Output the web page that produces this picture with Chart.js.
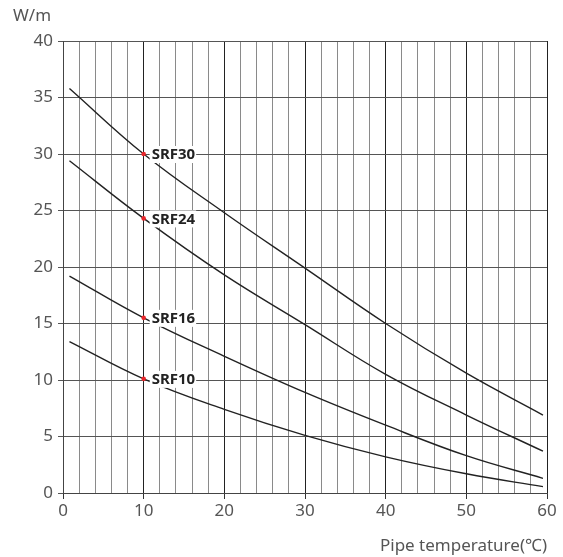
<!DOCTYPE html>
<html>
<head>
<meta charset="utf-8">
<script src="https://cdn.jsdelivr.net/npm/chart.js@4.4.1/dist/chart.umd.min.js"></script>
<style>
  html, body { margin: 0; padding: 0; background: #fff; }
  #chart { display: block; }
</style>
</head>
<body>
<canvas id="chart" width="563" height="557"></canvas>
<script>
// Pipe temperature (°C) vs output (W/m)
const temps  = [0.8, 10, 20, 30, 40, 50, 59.5];
const srf30  = [35.8, 30.0, 24.8, 19.9, 15.0, 10.6, 6.9];
const srf24  = [29.4, 24.3, 19.3, 14.9, 10.5, 6.9, 3.7];
const srf16  = [19.2, 15.5, 12.1, 8.9, 6.0, 3.3, 1.3];
const srf10  = [13.4, 10.1, 7.4, 5.1, 3.2, 1.7, 0.56];
const seriesNames = ['SRF30', 'SRF24', 'SRF16', 'SRF10'];
const labelTemp = 10;
const xTicks = [0, 10, 20, 30, 40, 50, 60];
const yTicks = [0, 5, 10, 15, 20, 25, 30, 35, 40];

const FONT = '"Noto Sans", "Noto Sans CJK KR", sans-serif';

function toPoints(ys) {
  return temps.map((t, i) => ({ x: t, y: ys[i] }));
}

const allSeries = [srf30, srf24, srf16, srf10];

// Red markers + series names at 10°C
const labelPlugin = {
  id: 'seriesLabels',
  afterDatasetsDraw(chart) {
    const ctx = chart.ctx;
    const xs = chart.scales.x, ys = chart.scales.y;
    ctx.save();
    allSeries.forEach((s, i) => {
      const idx = temps.indexOf(labelTemp);
      const px = xs.getPixelForValue(labelTemp);
      const py = ys.getPixelForValue(s[idx]);
      ctx.font = 'bold 15px ' + FONT;
      const w = ctx.measureText(seriesNames[i]).width;
      ctx.fillStyle = '#fff';
      ctx.fillRect(px + 6, py - 8, w + 3, 17);
      ctx.fillStyle = '#222';
      ctx.textBaseline = 'middle';
      ctx.textAlign = 'left';
      ctx.fillText(seriesNames[i], px + 8, py + 1);
      ctx.fillStyle = '#e8262a';
      ctx.beginPath();
      ctx.arc(px, py, 2.3, 0, Math.PI * 2);
      ctx.fill();
    });
    // unit label
    ctx.font = '17px ' + FONT;
    ctx.fillStyle = '#555';
    ctx.textBaseline = 'middle';
    ctx.textAlign = 'left';
    ctx.fillText('W/m', 13, 16);
    ctx.restore();
  }
};

new Chart(document.getElementById('chart'), {
  type: 'line',
  data: {
    datasets: allSeries.map((s, i) => ({
      label: seriesNames[i],
      data: toPoints(s),
      borderColor: '#222',
      borderWidth: 1.4,
      pointRadius: 0,
      tension: 0.4,
      fill: false
    }))
  },
  options: {
    responsive: false,
    animation: false,
    devicePixelRatio: 1,
    layout: { padding: { left: 0, right: 16, top: 41, bottom: 0 } },
    plugins: {
      legend: { display: false },
      tooltip: { enabled: false }
    },
    scales: {
      x: {
        type: 'linear',
        min: 0,
        max: 60,
        afterFit(scale) { scale.height = 64; },
        ticks: {
          stepSize: 2,
          autoSkip: false,
          maxRotation: 0,
          padding: 2,
          color: '#555',
          font: { family: FONT, size: 17 },
          callback: v => xTicks.includes(v) ? String(v) : ''
        },
        grid: {
          color: c => (c.tick && c.tick.value % 10 === 0) ? '#222' : '#8a8a8a',
          tickColor: c => (c.tick && c.tick.value % 10 === 0) ? '#333' : 'rgba(0,0,0,0)',
          tickLength: 6,
          lineWidth: 1
        },
        border: { color: '#444', width: 1 },
        title: {
          display: true,
          text: 'Pipe temperature(℃)',
          align: 'end',
          color: '#555',
          font: { family: FONT, size: 17 },
          padding: { top: 0, bottom: 1 }
        }
      },
      y: {
        min: 0,
        max: 40,
        afterFit(scale) { scale.width = 63; },
        ticks: {
          stepSize: 5,
          padding: 5,
          color: '#555',
          font: { family: FONT, size: 17 },
          callback: v => yTicks.includes(v) ? String(v) : ''
        },
        grid: {
          color: '#555',
          tickColor: '#555',
          tickLength: 5,
          lineWidth: 1
        },
        border: { color: '#444', width: 1 }
      }
    }
  },
  plugins: [labelPlugin]
});
</script>
</body>
</html>
